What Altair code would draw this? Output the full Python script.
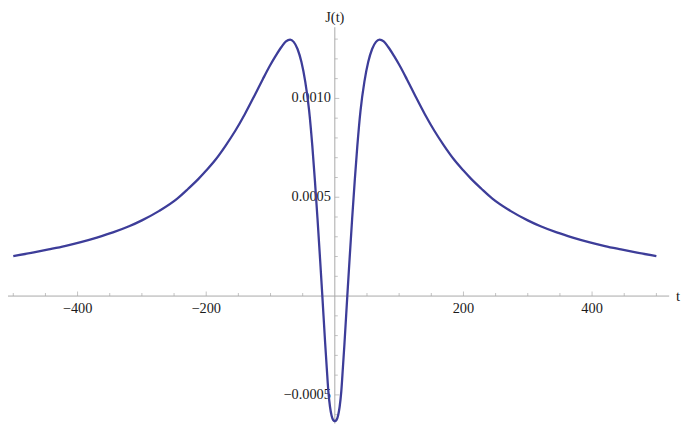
import altair as alt
import pandas as pd

# ---- curve data ----
t_values = [-500, -468, -445, -420, -395, -370, -345, -320, -300, -273, -245, -228,
            -212, -200, -185, -170, -155, -140, -124, -112, -101, -92, -83, -76,
            -69.5, -64, -58, -52, -46, -40, -35, -31, -27, -23, -19.4, -15, -12.5,
            -10, -7.5, -5, -2.5, 0,
            2.5, 5, 7.5, 10, 12.5, 15, 19.4, 23, 27, 31, 35, 40, 46, 52, 58, 64,
            69.5, 76, 83, 92, 101, 112, 124, 140, 155, 170, 185, 200, 212, 228, 245,
            273, 300, 320, 345, 370, 395, 420, 445, 468, 500]
j_values = [2.02e-4, 2.21e-4, 2.36e-4, 2.53e-4, 2.73e-4, 2.96e-4, 3.22e-4, 3.53e-4,
            3.83e-4, 4.31e-4, 4.93e-4, 5.43e-4, 5.93e-4, 6.35e-4, 6.92e-4, 7.6e-4,
            8.35e-4, 9.2e-4, 1.02e-3, 1.097e-3, 1.165e-3, 1.215e-3, 1.26e-3, 1.288e-3,
            1.297e-3, 1.286e-3, 1.25e-3, 1.185e-3, 1.085e-3, 9.4e-4, 7.6e-4, 5.85e-4,
            3.95e-4, 1.9e-4, 0.0, -2.4e-4, -3.65e-4, -4.85e-4, -5.6e-4, -6.05e-4,
            -6.27e-4, -6.33e-4,
            -6.27e-4, -6.05e-4, -5.6e-4, -4.85e-4, -3.65e-4, -2.4e-4, 0.0, 1.9e-4,
            3.95e-4, 5.85e-4, 7.6e-4, 9.4e-4, 1.085e-3, 1.185e-3, 1.25e-3, 1.286e-3,
            1.297e-3, 1.288e-3, 1.26e-3, 1.215e-3, 1.165e-3, 1.097e-3, 1.02e-3,
            9.2e-4, 8.35e-4, 7.6e-4, 6.92e-4, 6.35e-4, 5.93e-4, 5.43e-4, 4.93e-4,
            4.31e-4, 3.83e-4, 3.53e-4, 3.22e-4, 2.96e-4, 2.73e-4, 2.53e-4, 2.36e-4,
            2.21e-4, 2.02e-4]

# ---- axes ----
x_major = [-400, -200, 200, 400]
x_major_labels = ["\u2212400", "\u2212200", "200", "400"]
x_minor = [-500, -450, -350, -300, -250, -150, -100, -50,
           50, 100, 150, 250, 300, 350, 450, 500]
y_major = [-0.0005, 0.0005, 0.0010]
y_major_labels = ["\u22120.0005", "0.0005", "0.0010"]
y_minor = [-0.0006, -0.0004, -0.0003, -0.0002, -0.0001, 0.0001, 0.0002, 0.0003,
           0.0004, 0.0006, 0.0007, 0.0008, 0.0009, 0.0011, 0.0012, 0.0013]

x_domain = [-508.2, 519.9]
y_domain = [-6.45e-4, 1.36e-3]

LINE_COLOR = "#3d3d99"
AXIS_COLOR = "#a8a8a8"
FONT = "Liberation Serif"
TEXT_COLOR = "#1a1a1a"
FS = 14.5

xs = alt.Scale(domain=x_domain, nice=False, zero=False)
ys = alt.Scale(domain=y_domain, nice=False, zero=False)

curve = pd.DataFrame({"t": t_values, "J": j_values})

line = alt.Chart(curve).mark_line(
    color=LINE_COLOR, strokeWidth=2.3, interpolate="monotone", clip=True
).encode(
    x=alt.X("t:Q", scale=xs, axis=None),
    y=alt.Y("J:Q", scale=ys, axis=None),
    order="t:Q",
)

base_one = alt.Chart(pd.DataFrame({"a": [0]}))

x_axis_line = base_one.mark_rule(color=AXIS_COLOR, strokeWidth=1).encode(
    y=alt.Y(datum=0, type="quantitative", scale=ys, axis=None)
)
y_axis_line = base_one.mark_rule(color=AXIS_COLOR, strokeWidth=1).encode(
    x=alt.X(datum=0, type="quantitative", scale=xs, axis=None)
)

xmaj_df = pd.DataFrame({"t": x_major, "label": x_major_labels})
xmin_df = pd.DataFrame({"t": x_minor})
ymaj_df = pd.DataFrame({"J": y_major, "label": y_major_labels})
ymin_df = pd.DataFrame({"J": y_minor})

x_major_ticks = alt.Chart(xmaj_df).mark_tick(
    orient="vertical", size=4.5, thickness=1, color=AXIS_COLOR, yOffset=-2.25
).encode(
    x=alt.X("t:Q", scale=xs, axis=None),
    y=alt.Y(datum=0, type="quantitative", scale=ys, axis=None),
)
x_minor_ticks = alt.Chart(xmin_df).mark_tick(
    orient="vertical", size=3, thickness=1, color=AXIS_COLOR, yOffset=-1.5
).encode(
    x=alt.X("t:Q", scale=xs, axis=None),
    y=alt.Y(datum=0, type="quantitative", scale=ys, axis=None),
)
y_major_ticks = alt.Chart(ymaj_df).mark_tick(
    orient="horizontal", size=4.5, thickness=1, color=AXIS_COLOR, xOffset=2.25
).encode(
    y=alt.Y("J:Q", scale=ys, axis=None),
    x=alt.X(datum=0, type="quantitative", scale=xs, axis=None),
)
y_minor_ticks = alt.Chart(ymin_df).mark_tick(
    orient="horizontal", size=3, thickness=1, color=AXIS_COLOR, xOffset=1.5
).encode(
    y=alt.Y("J:Q", scale=ys, axis=None),
    x=alt.X(datum=0, type="quantitative", scale=xs, axis=None),
)

x_labels = alt.Chart(xmaj_df).mark_text(
    font=FONT, fontSize=FS, color=TEXT_COLOR, dy=13, baseline="middle", align="center"
).encode(
    x=alt.X("t:Q", scale=xs, axis=None),
    y=alt.Y(datum=0, type="quantitative", scale=ys, axis=None),
    text="label:N",
)
y_labels = alt.Chart(ymaj_df).mark_text(
    font=FONT, fontSize=FS, color=TEXT_COLOR, dx=-4, baseline="middle", align="right"
).encode(
    y=alt.Y("J:Q", scale=ys, axis=None),
    x=alt.X(datum=0, type="quantitative", scale=xs, axis=None),
    text="label:N",
)

j_title = base_one.mark_text(
    font=FONT, fontSize=FS, color=TEXT_COLOR, dy=-9, baseline="middle", align="center"
).encode(
    x=alt.X(datum=0, type="quantitative", scale=xs, axis=None),
    y=alt.Y(datum=y_domain[1], type="quantitative", scale=ys, axis=None),
    text=alt.value("J(t)"),
)
t_title = base_one.mark_text(
    font=FONT, fontSize=15, color=TEXT_COLOR, dx=9, baseline="middle", align="center"
).encode(
    x=alt.X(datum=x_domain[1], type="quantitative", scale=xs, axis=None),
    y=alt.Y(datum=0, type="quantitative", scale=ys, axis=None),
    text=alt.value("t"),
)

chart = alt.layer(
    x_axis_line, y_axis_line,
    x_minor_ticks, x_major_ticks, y_minor_ticks, y_major_ticks,
    x_labels, y_labels, j_title, t_title,
    line,
).properties(
    width=669,
    height=401,
    padding={"left": 0, "top": 17, "right": 15, "bottom": 0},
    autosize=alt.AutoSizeParams(type="none"),
).configure_view(stroke=None)

chart.save("out.html", embed_options={"renderer": "svg", "actions": False})
